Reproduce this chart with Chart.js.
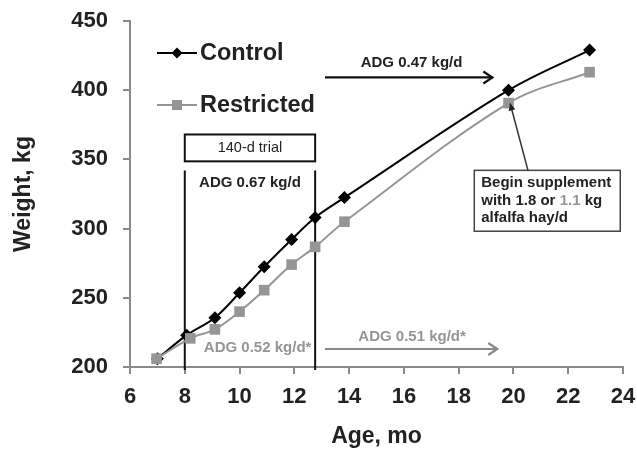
<!DOCTYPE html>
<html><head><meta charset="utf-8">
<script src="https://cdn.jsdelivr.net/npm/chart.js@4"></script>
<style>html,body{margin:0;padding:0;background:#fff}</style>
</head><body>
<canvas id="c" width="637" height="451"></canvas>
<script>
// ---- data ----
const controlAge = [7, 8.07, 9.1, 10, 10.9, 11.9, 12.76, 13.83, 19.82, 22.78];
const controlWeight = [206, 223, 235.6, 253.6, 272.4, 292.1, 308, 322.4, 400, 429];
const restrictedAge = [6.97, 8.2, 9.1, 10, 10.9, 11.9, 12.76, 13.83, 19.82, 22.78];
const restrictedWeight = [206, 220.7, 227.2, 240, 255.5, 274, 286.8, 305, 390.7, 413];
const seriesNames = ['Control', 'Restricted'];
const xTicks = [6, 8, 10, 12, 14, 16, 18, 20, 22, 24];
const yTicks = [200, 250, 300, 350, 400, 450];
const trialBounds = [8, 12.76];

const FONT = '"Liberation Sans", Arial, Helvetica, sans-serif';
const TXT = '#222222';
const GRAY = '#959595';
const AXIS = '#8a8a8a';

function pts(ax, wy) { return ax.map((a, i) => ({ x: a, y: wy[i] })); }

function arrowOpen(ctx, x1, y1, x2, y2, color) {
  ctx.save();
  ctx.strokeStyle = color; ctx.lineWidth = 2.2;
  ctx.beginPath(); ctx.moveTo(x1, y1); ctx.lineTo(x2, y2); ctx.stroke();
  ctx.beginPath(); ctx.moveTo(x2 - 9, y2 - 6); ctx.lineTo(x2, y2); ctx.lineTo(x2 - 9, y2 + 6); ctx.stroke();
  ctx.restore();
}

const annotPlugin = {
  id: 'annot',
  beforeDatasetsDraw(chart) {
    const ctx = chart.ctx, X = v => chart.scales.x.getPixelForValue(v), Y = v => chart.scales.y.getPixelForValue(v);
    ctx.save();
    ctx.strokeStyle = '#111'; ctx.lineWidth = 2;
    trialBounds.forEach(b => {
      ctx.beginPath(); ctx.moveTo(X(b), Y(342)); ctx.lineTo(X(b), Y(200) + 3); ctx.stroke();
    });
    ctx.restore();
  },
  afterDatasetsDraw(chart) {
    const ctx = chart.ctx, X = v => chart.scales.x.getPixelForValue(v), Y = v => chart.scales.y.getPixelForValue(v);
    ctx.save();
    // trial box
    const bx1 = X(trialBounds[0]), bx2 = X(trialBounds[1]);
    ctx.strokeStyle = '#111'; ctx.lineWidth = 2;
    ctx.strokeRect(bx1, Y(368), bx2 - bx1, Y(348.6) - Y(368));
    ctx.textAlign = 'center'; ctx.textBaseline = 'middle';
    ctx.fillStyle = TXT; ctx.font = '14.5px ' + FONT;
    ctx.fillText('140-d trial', (bx1 + bx2) / 2, Y(358.3));
    ctx.font = 'bold 15px ' + FONT;
    ctx.fillText('ADG 0.67 kg/d', (bx1 + bx2) / 2, Y(332.8));
    ctx.fillText('ADG 0.47 kg/d', X(16.28), Y(420));
    ctx.fillStyle = GRAY;
    ctx.fillText('ADG 0.52 kg/d*', X(10.66), Y(213.7));
    ctx.fillText('ADG 0.51 kg/d*', X(16.3), Y(221.6));
    arrowOpen(ctx, X(13.12), Y(409.2), X(19.23), Y(409.2), '#111');
    arrowOpen(ctx, X(13.12), Y(213), X(19.41), Y(213), '#8a8a8a');
    // callout
    const cx1 = X(18.57), cx2 = X(23.9), cy1 = Y(342.1), cy2 = Y(298.1);
    ctx.fillStyle = '#fff'; ctx.fillRect(cx1, cy1, cx2 - cx1, cy2 - cy1);
    ctx.strokeStyle = '#444'; ctx.lineWidth = 1.5;
    ctx.strokeRect(cx1, cy1, cx2 - cx1, cy2 - cy1);
    ctx.textAlign = 'left'; ctx.font = 'bold 15px ' + FONT;
    const tx = cx1 + 7;
    ctx.fillStyle = TXT;
    ctx.fillText('Begin supplement', tx, Y(333.4));
    let s1 = 'with 1.8 or ';
    ctx.fillText(s1, tx, Y(320.4));
    let w1 = ctx.measureText(s1).width;
    ctx.fillStyle = GRAY; ctx.fillText('1.1', tx + w1, Y(320.4));
    let w2 = ctx.measureText('1.1').width;
    ctx.fillStyle = TXT; ctx.fillText(' kg', tx + w1 + w2, Y(320.4));
    ctx.fillText('alfalfa hay/d', tx, Y(307.4));
    // callout arrow
    const ax1 = X(20.53), ay1 = cy1, ax2 = X(19.88), ay2 = Y(390.4);
    ctx.strokeStyle = '#333'; ctx.lineWidth = 1.5;
    ctx.beginPath(); ctx.moveTo(ax1, ay1); ctx.lineTo(ax2, ay2); ctx.stroke();
    const ang = Math.atan2(ay2 - ay1, ax2 - ax1);
    ctx.fillStyle = '#222';
    ctx.beginPath();
    ctx.moveTo(ax2, ay2);
    ctx.lineTo(ax2 - 7 * Math.cos(ang) + 3.5 * Math.sin(ang), ay2 - 7 * Math.sin(ang) - 3.5 * Math.cos(ang));
    ctx.lineTo(ax2 - 7 * Math.cos(ang) - 3.5 * Math.sin(ang), ay2 - 7 * Math.sin(ang) + 3.5 * Math.cos(ang));
    ctx.closePath(); ctx.fill();
    ctx.restore();
  },
  afterDraw(chart) {
    // legend
    const ctx = chart.ctx, a = chart.chartArea;
    ctx.save();
    const lx1 = a.left + 27, lx2 = a.left + 67, mx = (lx1 + lx2) / 2;
    const rows = [{ y: a.top + 32, color: '#000', style: 'diamond' }, { y: a.top + 84, color: GRAY, style: 'square' }];
    rows.forEach((r, i) => {
      ctx.strokeStyle = r.color; ctx.lineWidth = 2;
      ctx.beginPath(); ctx.moveTo(lx1, r.y); ctx.lineTo(lx2, r.y); ctx.stroke();
      ctx.fillStyle = r.color;
      if (r.style === 'diamond') {
        ctx.beginPath(); ctx.moveTo(mx, r.y - 5.5); ctx.lineTo(mx + 5.5, r.y); ctx.lineTo(mx, r.y + 5.5); ctx.lineTo(mx - 5.5, r.y); ctx.closePath(); ctx.fill();
      } else {
        ctx.fillRect(mx - 5, r.y - 5, 10, 10);
      }
      ctx.fillStyle = TXT; ctx.font = 'bold 23.5px ' + FONT;
      ctx.textAlign = 'left'; ctx.textBaseline = 'middle';
      ctx.fillText(seriesNames[i], lx2 + 3, r.y + 1);
    });
    ctx.restore();
  }
};

new Chart(document.getElementById('c'), {
  type: 'line',
  data: {
    datasets: [
      {
        label: seriesNames[1], data: pts(restrictedAge, restrictedWeight),
        borderColor: GRAY, backgroundColor: GRAY, borderWidth: 2,
        pointStyle: 'rect', pointRadius: 7.5, pointBorderWidth: 0, tension: 0.35
      },
      {
        label: seriesNames[0], data: pts(controlAge, controlWeight),
        borderColor: '#000', backgroundColor: '#000', borderWidth: 2,
        pointStyle: 'rectRot', pointRadius: 6.5, pointBorderWidth: 0, tension: 0.35
      }
    ]
  },
  options: {
    responsive: false, animation: false, devicePixelRatio: 1,
    layout: { padding: { top: 21, right: 14, left: 0, bottom: 0 } },
    plugins: { legend: { display: false }, tooltip: { enabled: false } },
    scales: {
      x: {
        type: 'linear', min: xTicks[0], max: xTicks[xTicks.length - 1],
        afterBuildTicks: s => { s.ticks = xTicks.map(v => ({ value: v })); },
        afterFit: s => { s.height = 84; s.paddingLeft = 0; s.paddingRight = 0; },
        grid: { drawOnChartArea: false, drawTicks: true, tickLength: 7, color: AXIS, lineWidth: 2 },
        border: { color: AXIS, width: 2 },
        ticks: { color: TXT, padding: 10, font: { family: FONT, size: 22, weight: 'bold' }, maxRotation: 0 },
        title: { display: true, text: 'Age, mo', color: TXT, font: { family: FONT, size: 23, weight: 'bold' }, padding: { top: 0, bottom: 1 } }
      },
      y: {
        min: yTicks[0], max: yTicks[yTicks.length - 1],
        afterBuildTicks: s => { s.ticks = yTicks.map(v => ({ value: v })); },
        afterFit: s => { s.width = 130; s.paddingTop = 0; s.paddingBottom = 0; },
        grid: { drawOnChartArea: false, drawTicks: true, tickLength: 7, color: AXIS, lineWidth: 2 },
        border: { color: AXIS, width: 2 },
        ticks: { color: TXT, padding: 15, font: { family: FONT, size: 22, weight: 'bold' } },
        title: { display: true, text: 'Weight, kg', color: TXT, font: { family: FONT, size: 23, weight: 'bold' }, padding: { top: 10, bottom: 0 } }
      }
    }
  },
  plugins: [annotPlugin]
});
</script>
</body></html>
